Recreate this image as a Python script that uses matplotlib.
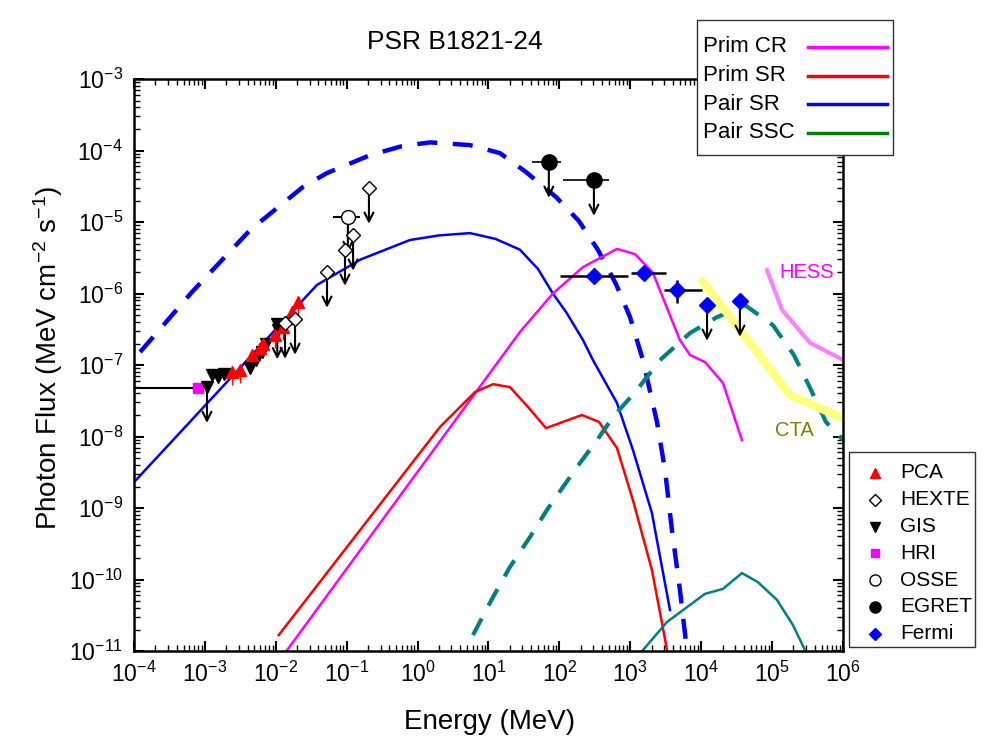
import numpy as np
import matplotlib
matplotlib.use('Agg')
import matplotlib.pyplot as plt
from matplotlib.lines import Line2D
from matplotlib.patches import Rectangle
from matplotlib.ticker import LogLocator, LogFormatterMathtext, NullFormatter

plt.rcParams['font.family'] = ['Liberation Sans', 'DejaVu Sans']
plt.rcParams['mathtext.fontset'] = 'custom'
plt.rcParams['mathtext.rm'] = 'Liberation Sans'
plt.rcParams['mathtext.it'] = 'Liberation Sans:italic'
plt.rcParams['mathtext.default'] = 'regular'
plt.rcParams['axes.unicode_minus'] = False

# model curves (energy in MeV, photon flux)
prim_cr_e = [1.2e-2, 27.8, 81, 215, 649, 1164, 2090, 5000, 6950, 1.13e4, 2.03e4, 3.76e4]
prim_cr_f = [8e-12, 2.9e-7, 1.0e-6, 2.34e-6, 4.2e-6, 3.56e-6, 1.94e-6, 2.24e-7, 1.38e-7, 1.1e-7, 5.6e-8, 8.9e-9]

prim_sr_e = [1.1e-2, 2.07, 6.46, 11.6, 20.1, 36, 64.7, 208, 362, 649, 1090, 2020, 2800, 3300]
prim_sr_f = [1.67e-11, 1.36e-8, 4.19e-8, 5.4e-8, 4.9e-8, 2.6e-8, 1.31e-8, 2.0e-8, 1.6e-8,
             6.9e-9, 1.29e-9, 1.36e-10, 2.47e-11, 1.03e-11]

pair_sr_e = [1e-4, 3.81e-2, 0.158, 0.78, 2.0, 5.5, 12.6, 27.8, 50, 81, 126, 215, 298,
             649, 1090, 2020, 3630]
pair_sr_f = [2.3e-9, 1.32e-6, 3.0e-6, 5.6e-6, 6.5e-6, 7.0e-6, 5.8e-6, 4.1e-6, 2.2e-6,
             1.0e-6, 5.4e-7, 2.24e-7, 1.17e-7, 2.94e-8, 6.5e-9, 8.5e-10, 3.74e-11]

pair_tot_e = [1.22e-4, 6.58e-4, 4.33e-3, 2.42e-2, 5.27e-2, 0.213, 0.6, 1.5, 5.5, 14.5, 33.8, 89.6,
              189, 350, 628, 990, 1510, 2380, 3090, 3870, 5020, 6310]
pair_tot_f = [1.52e-7, 1.05e-6, 7.7e-6, 3.1e-5, 4.84e-5, 8.6e-5, 1.15e-4, 1.3e-4, 1.19e-4, 9.2e-5,
              5.0e-5, 2.24e-5, 1.03e-5, 4.07e-6, 1.36e-6, 4.7e-7, 1.17e-7, 1.6e-8, 3.4e-9,
              4.9e-10, 7.1e-11, 1e-11]

pair_ssc_e = [6.04, 11.6, 20.1, 38.5, 66.8, 177, 339, 570, 1240, 2620, 6950, 1.62e4, 4.15e4,
              1.03e5, 2.03e5, 3.43e5, 5.75e5, 1e6]
pair_ssc_f = [1.67e-11, 5.7e-11, 1.5e-10, 3.93e-10, 9.4e-10, 3.74e-9, 8.9e-9, 1.87e-8, 4.47e-8,
              1.17e-7, 2.8e-7, 4.6e-7, 6.9e-7, 3.6e-7, 1.38e-7, 4.8e-8, 1.6e-8, 9e-9]

ssc_low_e = [1510, 3300, 1.13e4, 2.03e4, 3.76e4, 6.3e4, 1.17e5, 1.97e5, 2.91e5]
ssc_low_f = [1.03e-11, 2.55e-11, 6.3e-11, 7.4e-11, 1.23e-10, 9.2e-11, 5.2e-11, 2.31e-11, 1.03e-11]

hess_e = [8.47e4, 1.38e5, 3.43e5, 1e6]
hess_f = [2.13e-6, 5.9e-7, 2.04e-7, 1.18e-7]

cta_e = [1.06e4, 1.79e5, 1e6]
cta_f = [1.45e-6, 3.8e-8, 1.8e-8]

# observations
pca_e = [2.41e-3, 3.13e-3, 4.6e-3, 5.98e-3, 6.6e-3, 9.75e-3, 1.26e-2, 1.7e-2, 2.06e-2]
pca_f = [8.0e-8, 8.5e-8, 1.38e-7, 1.73e-7, 1.95e-7, 2.63e-7, 3.4e-7, 5.5e-7, 7.6e-7]

gis_e = [1.26e-3, 1.53e-3, 1.86e-3, 4.33e-3, 5.25e-3, 6.38e-3, 7.27e-3, 1.07e-2]
gis_f = [7.2e-8, 6.8e-8, 7.5e-8, 9.1e-8, 1.18e-7, 1.52e-7, 1.97e-7, 3.1e-7]
gis_ul_e = [1.07e-3, 1.05e-2]
gis_ul_f = [4.9e-8, 3.8e-7]

hexte_e = [1.35e-2, 1.87e-2, 5.28e-2, 9.46e-2, 0.123, 0.206]
hexte_f = [3.86e-7, 4.4e-7, 2.0e-6, 4.06e-6, 6.6e-6, 2.99e-5]

hri_e = [8.0e-4]
hri_f = [4.8e-8]
hri_xlo = [1e-4]

osse_e = [0.104]
osse_f = [1.17e-5]
osse_xlo = [0.064]
osse_xhi = [0.154]

egret_e = [71, 307]
egret_f = [6.9e-5, 3.86e-5]
egret_xlo = [41, 112]
egret_xhi = [105, 500]

fermi_e = [307, 1560, 4560]
fermi_f = [1.76e-6, 1.94e-6, 1.12e-6]
fermi_xlo = [102, 1023, 2990]
fermi_xhi = [927, 3190, 1.02e4]
fermi_ylo = [1.40e-6, 1.94e-6, 7.4e-7]
fermi_yhi = [2.27e-6, 1.94e-6, 1.55e-6]
fermi_ul_e = [1.21e4, 3.52e4]
fermi_ul_f = [6.9e-7, 7.85e-7]

model_labels = ['Prim CR', 'Prim SR', 'Pair SR', 'Pair SSC']
model_colors = ['#ff00ff', '#ff0000', '#0000ff', '#008000']
data_labels = ['PCA', 'HEXTE', 'GIS', 'HRI', 'OSSE', 'EGRET', 'Fermi']

fig = plt.figure(figsize=(9.97, 7.42), dpi=100)
ax = fig.add_axes([0.1344, 0.1226, 0.7111, 0.7709])


def ul_arrow(e, f):
    ax.annotate('', xy=(e, f / 10 ** 0.5), xytext=(e, f),
                arrowprops=dict(arrowstyle='->', color='black', lw=1.5, mutation_scale=16,
                                shrinkA=0, shrinkB=0), zorder=4)


# curves
ax.plot(pair_tot_e, pair_tot_f, color='#0000ff', lw=3.2, ls=(0, (4.5, 3.5)))
ax.plot(pair_sr_e, pair_sr_f, color='#0000ff', lw=1.8)
ax.plot(prim_cr_e, prim_cr_f, color='#ff00ff', lw=1.8)
ax.plot(prim_sr_e, prim_sr_f, color='#ff0000', lw=1.8)
ax.plot(pair_ssc_e, pair_ssc_f, color='#008080', lw=3, ls=(0, (4.5, 3.5)))
ax.plot(ssc_low_e, ssc_low_f, color='#008080', lw=1.8)
ax.plot(hess_e, hess_f, color='#ff80ff', lw=3)
ax.plot(cta_e, cta_f, color='#ffff80', lw=6)

# data points
ax.errorbar(hri_e, hri_f, xerr=[np.array(hri_e) - np.array(hri_xlo), [0]], fmt='none',
            ecolor='black', elinewidth=1.5, zorder=3)
ax.plot(hri_e, hri_f, 's', color='#ff00ff', ms=7, zorder=5)

ax.errorbar(pca_e, pca_f, yerr=[np.array(pca_f) * 0.35, np.array(pca_f) * 0.0],
            fmt='^', color='red', ecolor='red', elinewidth=1, ms=8, zorder=5)
ax.plot(gis_e, gis_f, 'v', color='black', ms=8, zorder=5)
ax.plot(gis_ul_e, gis_ul_f, 'v', color='black', ms=8, zorder=5)
for e, f in zip(gis_ul_e, gis_ul_f):
    ul_arrow(e, f)

for e, f in zip(hexte_e, hexte_f):
    ul_arrow(e, f)
ax.plot(hexte_e, hexte_f, 'D', mfc='white', mec='black', mew=1, ms=7, zorder=6)

ax.errorbar(osse_e, osse_f, xerr=[np.array(osse_e) - np.array(osse_xlo),
                                  np.array(osse_xhi) - np.array(osse_e)],
            fmt='none', ecolor='black', elinewidth=1.5, zorder=3)
for e, f in zip(osse_e, osse_f):
    ul_arrow(e, f)
ax.plot(osse_e, osse_f, 'o', mfc='white', mec='black', mew=1, ms=10, zorder=6)

ax.errorbar(egret_e, egret_f, xerr=[np.array(egret_e) - np.array(egret_xlo),
                                    np.array(egret_xhi) - np.array(egret_e)],
            fmt='none', ecolor='black', elinewidth=1.2, zorder=3)
for e, f in zip(egret_e, egret_f):
    ul_arrow(e, f)
ax.plot(egret_e, egret_f, 'o', color='black', ms=11, zorder=6)

ax.errorbar(fermi_e, fermi_f,
            xerr=[np.array(fermi_e) - np.array(fermi_xlo), np.array(fermi_xhi) - np.array(fermi_e)],
            yerr=[np.array(fermi_f) - np.array(fermi_ylo), np.array(fermi_yhi) - np.array(fermi_f)],
            fmt='none', ecolor='black', elinewidth=1.8, zorder=3)
ax.plot(fermi_e, fermi_f, 'D', color='#0000ff', ms=8, zorder=6)
for e, f in zip(fermi_ul_e, fermi_ul_f):
    ul_arrow(e, f)
ax.plot(fermi_ul_e, fermi_ul_f, 'D', color='#0000ff', ms=8, zorder=6)

ax.text(1.25e5, 2.0e-6, 'HESS', color='#ff00ff', fontsize=14.5, va='center')
ax.text(1.1e5, 1.2e-8, 'CTA', color='#808000', fontsize=14.5, va='center')

ax.set_xscale('log')
ax.set_yscale('log')
ax.set_xlim(1e-4, 1e6)
ax.set_ylim(1e-11, 1e-3)
for axis in (ax.xaxis, ax.yaxis):
    axis.set_major_locator(LogLocator(base=10, numticks=30))
    axis.set_major_formatter(LogFormatterMathtext())
    axis.set_minor_locator(LogLocator(base=10, subs=np.arange(2, 10), numticks=200))
    axis.set_minor_formatter(NullFormatter())
ax.tick_params(which='both', direction='in', top=True, right=True, labelsize=16.5)
ax.tick_params(which='major', length=7, width=1.5, pad=8)
ax.tick_params(which='minor', length=4, width=1)
for s in ax.spines.values():
    s.set_linewidth(1.8)

fig.text(0.456, 1 - 42 / 742, 'PSR B1821-24', ha='center', va='center', fontsize=19)
fig.text(0.491, 1 - 722 / 742, 'Energy (MeV)', ha='center', va='center', fontsize=20)
fig.text(0.048, 1 - 358 / 742, 'Photon Flux (MeV cm$^{-2}$ s$^{-1}$)', ha='center', va='center',
         rotation=90, fontsize=20)

# legends drawn by hand (text left, line right), positions in pixels
W, H = 997.0, 742.0


def fx(px):
    return px / W


def fy(py):
    return 1 - py / H


fig.add_artist(Rectangle((fx(697), fy(155)), fx(893) - fx(697), fy(20) - fy(155),
                         transform=fig.transFigure, facecolor='white', edgecolor='#333333',
                         lw=1.0, zorder=10))
for i, (lab, col) in enumerate(zip(model_labels, model_colors)):
    yy = fy(47 + i * 28.5)
    fig.text(fx(703), yy, lab, fontsize=16, va='center', ha='left', zorder=11)
    fig.add_artist(Line2D([fx(808), fx(887)], [yy, yy], color=col, lw=2.5,
                          transform=fig.transFigure, zorder=11))

fig.add_artist(Rectangle((fx(849), fy(647)), fx(975) - fx(849), fy(452) - fy(647),
                         transform=fig.transFigure, facecolor='white', edgecolor='#333333',
                         lw=1.0, zorder=10))
data_styles = [dict(marker='^', color='red', ms=7),
               dict(marker='D', mfc='white', mec='black', ms=6),
               dict(marker='v', color='black', ms=7),
               dict(marker='s', color='#ff00ff', ms=6),
               dict(marker='o', mfc='white', mec='black', ms=8),
               dict(marker='o', color='black', ms=8),
               dict(marker='D', color='#0000ff', ms=6)]
for i, (lab, st) in enumerate(zip(data_labels, data_styles)):
    yy = fy(473 + i * 26.8)
    fig.add_artist(Line2D([fx(875)], [yy], ls='none', transform=fig.transFigure,
                          zorder=11, **st))
    fig.text(fx(900), yy, lab, fontsize=15, va='center', ha='left', zorder=11)

fig.savefig('out.png', dpi=100)
